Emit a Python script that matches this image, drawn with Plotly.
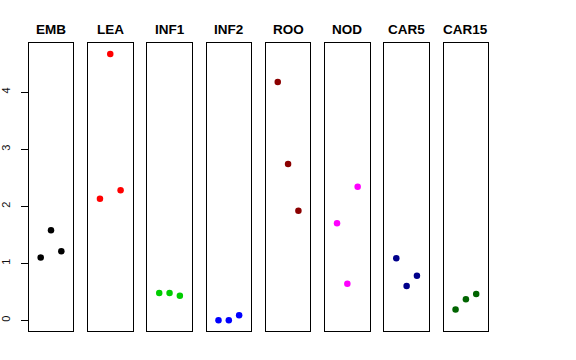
import plotly.graph_objects as go

tissues = ["EMB", "LEA", "INF1", "INF2", "ROO", "NOD", "CAR5", "CAR15"]
colors = ["#000000", "#FF0000", "#00CD00", "#0000FF", "#8B0000", "#FF00FF", "#00008B", "#006400"]
rep_x = [1, 2, 3]
values = [
    [1.10, 1.58, 1.21],   # EMB
    [2.13, 4.67, 2.28],   # LEA
    [0.48, 0.48, 0.43],   # INF1
    [0.00, 0.00, 0.09],   # INF2
    [4.18, 2.74, 1.92],   # ROO
    [1.70, 0.64, 2.34],   # NOD
    [1.09, 0.60, 0.78],   # CAR5
    [0.19, 0.37, 0.46],   # CAR15
]
y_ticks = [0, 1, 2, 3, 4]

W, H = 576, 360
left0, pw, pitch = 28.7, 44.6, 59.27
top_px, bot_px = 43, 331

ymax = 4.675
ypad = 0.04 * ymax
yrange = [-ypad, ymax + ypad]
xrange = [-0.16, 4.16]

fig = go.Figure()
annotations = []
for i, (name, col, vals) in enumerate(zip(tissues, colors, values)):
    n = "" if i == 0 else str(i + 1)
    xa = "x" + n
    ya = "y" + n
    fig.add_trace(go.Scatter(
        x=rep_x, y=vals, mode="markers", xaxis=xa, yaxis=ya,
        marker=dict(color=col, size=6.5, line=dict(width=0)),
        showlegend=False, hoverinfo="skip",
    ))
    l = (left0 + i * pitch) / W
    r = (left0 + i * pitch + pw) / W
    xkey = "xaxis" + n
    ykey = "yaxis" + n
    fig.layout[xkey] = dict(
        domain=[l, r], range=xrange, showgrid=False, zeroline=False,
        showticklabels=False, ticks="", showline=True, mirror=True,
        linecolor="black", linewidth=1, anchor=ya, fixedrange=True,
        automargin=False,
    )
    ydict = dict(
        domain=[(H - bot_px) / H, (H - top_px) / H], range=yrange,
        showgrid=False, zeroline=False, showline=True, mirror=True,
        linecolor="black", linewidth=1, anchor=xa, fixedrange=True,
        automargin=False,
    )
    if i == 0:
        ydict.update(tickmode="array", tickvals=y_ticks,
                     ticktext=[str(t) for t in y_ticks],
                     ticks="outside", ticklen=7, tickcolor="black", tickwidth=1,
                     tickangle=-90, tickfont=dict(size=11, color="#111111",
                                                   family="Liberation Sans, Arial, sans-serif"),
                     ticklabelstandoff=6)
    else:
        ydict.update(showticklabels=False, ticks="")
    fig.layout[ykey] = ydict
    annotations.append(dict(
        text="<b>" + name + "</b>", x=(l + r) / 2, y=(H - 29) / H,
        xref="paper", yref="paper", showarrow=False,
        xanchor="center", yanchor="middle",
        font=dict(size=13.5, color="black", family="Liberation Sans, Arial, sans-serif"),
    ))

fig.update_layout(
    width=W, height=H, margin=dict(l=0, r=0, t=0, b=0, autoexpand=False),
    paper_bgcolor="white", plot_bgcolor="white",
    annotations=annotations,
    font=dict(family="Liberation Sans, Arial, sans-serif"),
)
fig.write_html("out.html", config={"displayModeBar": False},
               post_script="document.body.style.margin='0px';")
